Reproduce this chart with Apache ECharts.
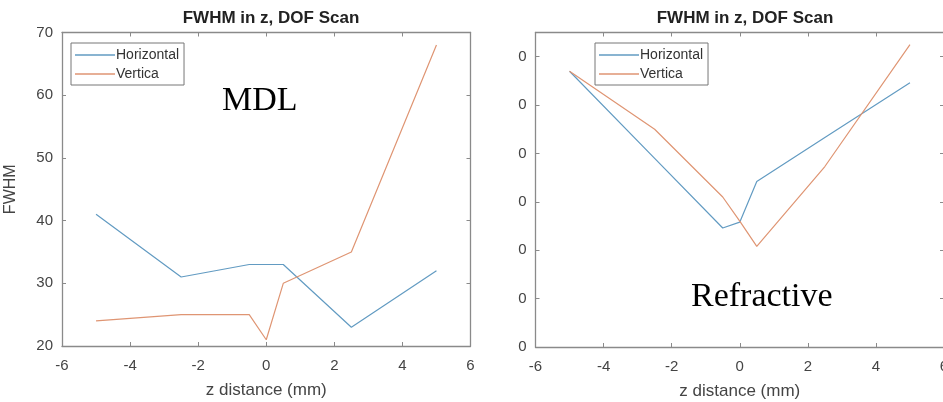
<!DOCTYPE html>
<html><head><meta charset="utf-8">
<script src="https://cdn.jsdelivr.net/npm/echarts@6/dist/echarts.min.js"></script>
<style>html,body{margin:0;padding:0;background:#fff}#c{width:943px;height:402px}</style>
</head><body><div id="c"></div>
<script>
// Left panel (MDL)
const mdlHorizX = [-5, -2.5, -0.5, 0.5, 2.5, 5];
const mdlHorizY = [41, 31, 33, 33, 23, 32];
const mdlVertX = [-5, -2.5, -0.5, 0, 0.5, 2.5, 5];
const mdlVertY = [24, 25, 25, 21, 30, 35, 68];
// Right panel (Refractive)
const refHorizX = [-5, -2.5, -0.5, 0, 0.5, 2.5, 5];
const refHorizY = [57, 39, 24.6, 25.8, 34.2, 43.3, 54.6];
const refVertX = [-5, -2.5, -0.5, 0, 0.5, 2.5, 5];
const refVertY = [57, 45, 31, 26, 20.8, 37.3, 62.5];
const xTicks = [-6, -4, -2, 0, 2, 4, 6];
const seriesNames = ['Horizontal', 'Vertica'];
const title = 'FWHM in z, DOF Scan';
const xName = 'z distance (mm)';
const yName = 'FWHM';
const panelLabels = ['MDL', 'Refractive'];

const pairs = (xs, ys) => xs.map((x, i) => [x, ys[i]]);
const BLUE = '#629bc2', ORANGE = '#df9573', AX = '#8a8a8a', TXT = '#444';
const font = 'Liberation Sans, Arial, sans-serif';

const chart = echarts.init(document.getElementById('c'), null, {renderer: 'canvas'});
const grids = [
  {left: 62, top: 32.5, width: 408.5, height: 313.5, outerBoundsMode: 'none', containLabel: false},
  {left: 535.5, top: 32.5, width: 408.5, height: 314.5, outerBoundsMode: 'none', containLabel: false}
];
function xAxes(g) {
  return [
    {gridIndex: g, type: 'value', min: xTicks[0], max: xTicks[xTicks.length - 1], interval: 2,
     axisLine: {onZero: false, lineStyle: {color: AX, width: 1.3}},
     axisTick: {inside: true, length: 4, lineStyle: {color: AX}},
     axisLabel: {color: TXT, fontSize: 15, fontFamily: font, margin: 12, showMaxLabel: true, showMinLabel: true, hideOverlap: false},
     splitLine: {show: false},
     name: xName, nameLocation: 'middle', nameGap: 36,
     nameTextStyle: {color: TXT, fontSize: 17, fontFamily: font}},
    {gridIndex: g, type: 'value', position: 'top', min: xTicks[0], max: xTicks[xTicks.length - 1], interval: 2,
     axisLine: {onZero: false, lineStyle: {color: AX, width: 1.3}},
     axisTick: {inside: true, length: 4, lineStyle: {color: AX}},
     axisLabel: {show: false}, splitLine: {show: false}}
  ];
}
const yCfg = [
  {min: 20, max: 70, interval: 10, fmt: v => String(v), name: yName},
  {min: 0, max: 65, interval: 10, fmt: v => String(v).slice(-1), name: ''}
];
function yAxes(g) {
  const c = yCfg[g];
  return [
    {gridIndex: g, type: 'value', min: c.min, max: c.max, interval: c.interval,
     axisLine: {show: true, onZero: false, lineStyle: {color: AX, width: 1.3}},
     axisTick: {show: true, inside: true, length: 4, lineStyle: {color: AX}},
     axisLabel: {color: TXT, fontSize: 15, fontFamily: font, margin: 9, formatter: c.fmt, showMaxLabel: g === 0, hideOverlap: false},
     splitLine: {show: false},
     name: c.name, nameLocation: 'middle', nameGap: 43,
     nameTextStyle: {color: TXT, fontSize: 16, fontFamily: font}},
    {gridIndex: g, type: 'value', position: 'right', min: c.min, max: c.max, interval: c.interval,
     axisLine: {show: true, onZero: false, lineStyle: {color: AX, width: 1.3}},
     axisTick: {show: true, inside: true, length: 4, lineStyle: {color: AX}},
     axisLabel: {show: false}, splitLine: {show: false}}
  ];
}
function line(name, data, g, color) {
  return {type: 'line', name, data, xAxisIndex: g * 2, yAxisIndex: g * 2,
    showSymbol: false, symbol: 'none', lineStyle: {color, width: 1.2}, itemStyle: {color},
    silent: true, animation: false};
}
function legend(left) {
  return {left, top: 43, orient: 'vertical', data: seriesNames,
    icon: 'rect', itemWidth: 40, itemHeight: 1.3, itemGap: 3,
    borderColor: '#777', borderWidth: 1, padding: [4, 5, 3, 4],
    textStyle: {color: '#333', fontSize: 14, fontFamily: font, padding: [0, 0, 0, -4], lineHeight: 16},
    backgroundColor: '#fff', selectedMode: false};
}
const titleStyle = {fontSize: 17, fontWeight: 'bold', color: '#222', fontFamily: font};
const option = {
  animation: false,
  backgroundColor: '#fff',
  title: [
    {text: title, left: 266, top: 5, textAlign: 'center', textStyle: titleStyle},
    {text: title, left: 740, top: 5, textAlign: 'center', textStyle: titleStyle}
  ],
  grid: grids,
  xAxis: [...xAxes(0), ...xAxes(1)],
  yAxis: [...yAxes(0), ...yAxes(1)],
  legend: [legend(71), legend(595)],
  series: [
    line(seriesNames[0], pairs(mdlHorizX, mdlHorizY), 0, BLUE),
    line(seriesNames[1], pairs(mdlVertX, mdlVertY), 0, ORANGE),
    line(seriesNames[0], pairs(refHorizX, refHorizY), 1, BLUE),
    line(seriesNames[1], pairs(refVertX, refVertY), 1, ORANGE)
  ],
  graphic: [
    {type: 'text', left: 222, top: 84, style: {text: panelLabels[0], font: '34px "Liberation Serif", "Times New Roman", serif', fill: '#000'}},
    {type: 'text', left: 691, top: 280, style: {text: panelLabels[1], font: '34px "Liberation Serif", "Times New Roman", serif', fill: '#000'}}
  ]
};
chart.setOption(option);
</script></body></html>
